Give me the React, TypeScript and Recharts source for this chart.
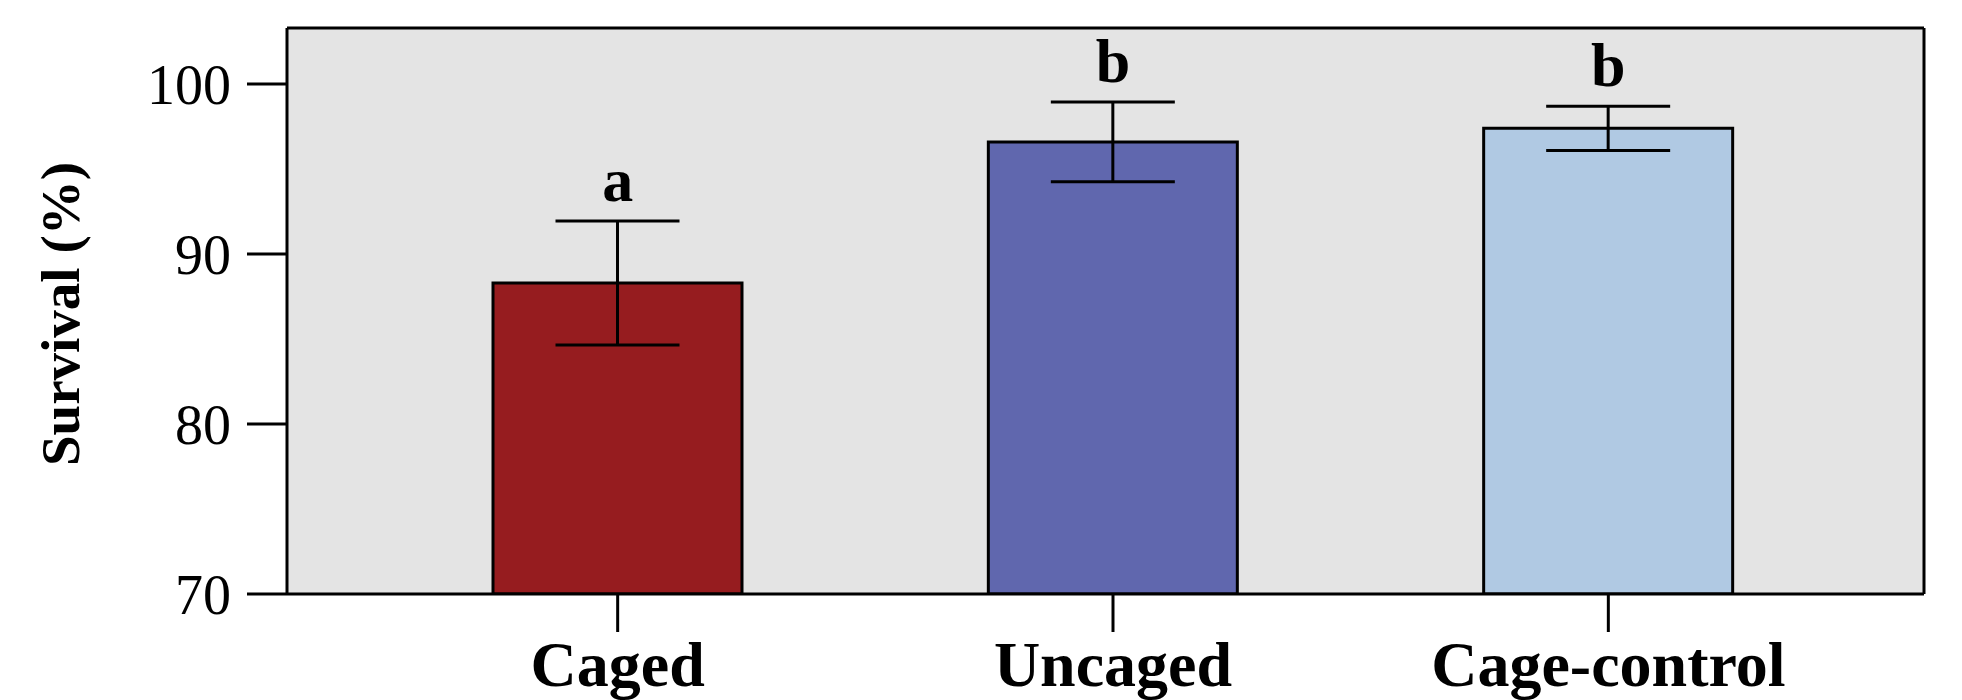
import React from 'react';
import {
  ComposedChart,
  Bar,
  Line,
  Cell,
  XAxis,
  YAxis,
  CartesianGrid,
  ErrorBar,
  LabelList,
  Label,
} from 'recharts';

// values
const treatments = ['Caged', 'Uncaged', 'Cage-control'];
const survival = [88.3, 96.6, 97.4];
const stdErr = [3.65, 2.35, 1.3];
const groupLetters = ['a', 'b', 'b'];
const barColors = ['#961c1f', '#6067ae', '#b0c9e3'];
const yTicks = [70, 80, 90, 100];

const data = treatments.map((name, i) => ({
  name,
  survival: survival[i],
  err: stdErr[i],
  top: survival[i] + stdErr[i],
  letter: groupLetters[i],
}));

const serif = '"Liberation Serif", "Times New Roman", serif';
const frame = { stroke: '#000', strokeWidth: 3 };

export default function App() {
  return (
    <div style={{ position: 'absolute', left: 0, top: 0, width: 1962, height: 700, background: '#fff' }}>
      <ComposedChart
        width={1962}
        height={700}
        data={data}
        margin={{ top: 26, right: 36, bottom: 0, left: 0 }}
      >
        {/* grey plot panel */}
        <CartesianGrid fill="#e4e4e4" horizontal={false} vertical={false} />
        <XAxis
          dataKey="name"
          padding={{ left: 83, right: 68 }}
          height={106}
          axisLine={frame}
          tickLine={frame}
          tickSize={38}
          tickMargin={9}
          tick={{ fontSize: 64, fontWeight: 'bold', fill: '#000', fontFamily: serif }}
          interval={0}
        />
        {/* top and right edges of the panel */}
        <XAxis
          xAxisId="top"
          orientation="top"
          dataKey="name"
          height={2}
          tick={false}
          tickLine={false}
          axisLine={frame}
        />
        <YAxis
          width={287}
          domain={[70, 103.3]}
          ticks={yTicks}
          allowDataOverflow
          axisLine={frame}
          tickLine={frame}
          tickSize={40}
          tickMargin={16}
          tick={{ fontSize: 56, fill: '#000', fontFamily: serif }}
        >
          <Label
            content={({ viewBox }: any) => {
              const cx = viewBox.x + 60;
              const cy = viewBox.y + viewBox.height / 2 + 3;
              return (
                <text
                  x={cx}
                  y={cy}
                  transform={`rotate(-90, ${cx}, ${cy})`}
                  textAnchor="middle"
                  dominantBaseline="central"
                  fontSize={55}
                  fontWeight="bold"
                  fontFamily={serif}
                  fill="#000"
                >
                  Survival (%)
                </text>
              );
            }}
          />
        </YAxis>
        <YAxis
          yAxisId="right"
          orientation="right"
          width={2}
          domain={[70, 103.3]}
          allowDataOverflow
          tick={false}
          tickLine={false}
          axisLine={frame}
        />
        <Bar dataKey="survival" barSize={249} stroke="#000" strokeWidth={3} isAnimationActive={false}>
          {data.map((d, i) => (
            <Cell key={d.name} fill={barColors[i]} />
          ))}
          <ErrorBar dataKey="err" width={62} stroke="#000" strokeWidth={3} direction="y" />
        </Bar>
        {/* invisible series so the frame axes get drawn */}
        <Line
          xAxisId="top"
          yAxisId="right"
          dataKey="survival"
          stroke="none"
          dot={false}
          activeDot={false}
          legendType="none"
          isAnimationActive={false}
        />
        {/* invisible series carrying the significance letters */}
        <Line
          dataKey="top"
          stroke="none"
          dot={false}
          activeDot={false}
          legendType="none"
          isAnimationActive={false}
        >
          <LabelList
            dataKey="letter"
            position="top"
            offset={20}
            fontSize={62}
            fontWeight="bold"
            fontFamily={serif}
            fill="#000"
          />
        </Line>
      </ComposedChart>
    </div>
  );
}
